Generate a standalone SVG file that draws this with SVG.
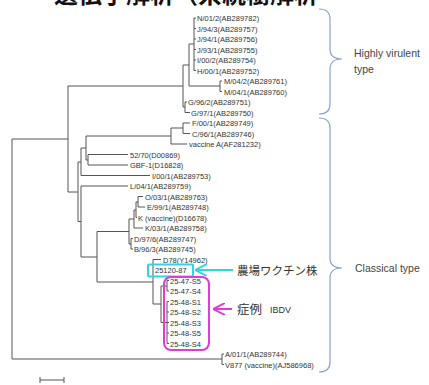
<svg xmlns="http://www.w3.org/2000/svg" width="429" height="385" viewBox="0 0 429 385">
<style>
.t{font-family:"Liberation Sans",Arial,sans-serif;font-size:7.5px;fill:#333}
.tree{fill:none;stroke:#555;stroke-width:1}
.br{fill:none;stroke:#8aa4d0;stroke-width:1.2}
.lab{font-family:"Liberation Sans",Arial,sans-serif;font-size:10.5px;fill:#444}
.jp{font-family:"Noto Sans CJK JP","Noto Sans CJK SC",sans-serif;fill:#333}
</style>
<defs>
<marker id="ac" markerWidth="6" markerHeight="6" refX="1" refY="3" orient="auto" markerUnits="strokeWidth"><path d="M6,0 L0,3 L6,6" fill="none" stroke="#2cd6e2" stroke-width="1"/></marker>
<marker id="am" markerWidth="6" markerHeight="6" refX="1" refY="3" orient="auto" markerUnits="strokeWidth"><path d="M6,0 L0,3 L6,6" fill="none" stroke="#e23ad6" stroke-width="1"/></marker>
</defs>
<text x="54" y="3" style="font-family:'Noto Sans CJK JP','Noto Sans CJK SC',sans-serif;font-size:24px;font-weight:bold;fill:#111">遺伝子解析（系統樹解析</text>
<g id="connectors">
<path class="tree" d="M12,139V359M12,139H68M68,86V192M68,86H183M183,65V107M183,65H189M189,44V86M189,44H194M194,18V70.5M194,18H196M194,28.5H196M194,39H196M194,49.5H196M194,60H196M194,70.5H196M189,86H220M220,81V91.5M220,81H222M220,91.5H222M183,107H185M185,102V112.5M185,102H187M185,112.5H190M12,359H222M222,354V364.5M222,354H224M222,364.5H224"/>
<path class="tree" d="M68,192H78M78,162V221.5M78,162H81M81,148V175.5M81,148H86M86,136V160M86,136H171M171,128V144M171,128H183M183,123V133.5M183,123H190M183,133.5H190M171,144H187M86,160H88M88,154.5V165M88,154.5H128M88,165H128M81,175.5H150M78,221.5H81M81,186V257M81,186H128M81,257H97M97,231.5V282M97,231.5H129M129,219V244M129,219H134M134,210V228M134,210H136M136,202V217.5M136,202H138M138,196.5V207M138,196.5H143M138,207H145M136,217.5H137M134,228H143M129,244H131M131,238.5V249M131,238.5H133M131,249H133M97,282H153M153,259.5V304M153,259.5H161M153,304H161M161,286V322.5M161,286H167M161,322.5H167M167,280.5V291M167,301.5V343.5M167,280.5H169M167,291H169M167,301.5H169M167,312H169M167,322.5H169M167,333H169M167,343.5H169"/>
</g>
<g id="leaves">
<text class="t" x="197" y="21">N/01/2(AB289782)</text>
<text class="t" x="197" y="31.5">J/94/3(AB289757)</text>
<text class="t" x="197" y="42">J/94/1(AB289756)</text>
<text class="t" x="197" y="52.5">J/93/1(AB289755)</text>
<text class="t" x="197" y="63">I/00/2(AB289754)</text>
<text class="t" x="197" y="73.5">H/00/1(AB289752)</text>
<text class="t" x="224" y="84">M/04/2(AB289761)</text>
<text class="t" x="224" y="94.5">M/04/1(AB289760)</text>
<text class="t" x="188" y="105">G/96/2(AB289751)</text>
<text class="t" x="191" y="115.5">G/97/1(AB289750)</text>
<text class="t" x="192" y="126">F/00/1(AB289749)</text>
<text class="t" x="192" y="136.5">C/96/1(AB289746)</text>
<text class="t" x="189" y="147">vaccine A(AF281232)</text>
<text class="t" x="130" y="157.5">52/70(D00869)</text>
<text class="t" x="130" y="168">GBF-1(D16828)</text>
<text class="t" x="152" y="178.5">I/00/1(AB289753)</text>
<text class="t" x="130" y="189">L/04/1(AB289759)</text>
<text class="t" x="145" y="199.5">O/03/1(AB289763)</text>
<text class="t" x="147" y="210">E/99/1(AB289748)</text>
<text class="t" x="138" y="220.5">K (vaccine)(D16678)</text>
<text class="t" x="145" y="231">K/03/1(AB289758)</text>
<text class="t" x="134" y="241.5">D/97/6(AB289747)</text>
<text class="t" x="134" y="252">B/96/3(AB289745)</text>
<text class="t" x="163" y="262.5">D78(Y14962)</text>
<text class="t" x="155" y="273">25120-87</text>
<text class="t" x="170" y="283.5">25-47-S5</text>
<text class="t" x="170" y="294">25-47-S4</text>
<text class="t" x="170" y="304.5">25-48-S1</text>
<text class="t" x="170" y="315">25-48-S2</text>
<text class="t" x="170" y="325.5">25-48-S3</text>
<text class="t" x="170" y="336">25-48-S5</text>
<text class="t" x="170" y="346.5">25-48-S4</text>
<text class="t" x="225" y="357">A/01/1(AB289744)</text>
<text class="t" x="225" y="367.5">V877 (vaccine)(AJ586968)</text>
</g>
<g id="vaccine-box">
<rect x="148" y="264.5" width="45" height="12" rx="1" fill="none" stroke="#2cd6e2" stroke-width="2"/>
<line x1="197" y1="270" x2="233" y2="270" stroke="#2cd6e2" stroke-width="2" marker-start="url(#ac)"/>
<text class="jp" x="237" y="274.5" style="font-size:11.5px">農場ワクチン株</text>
</g>
<g id="case-box">
<rect x="164" y="277" width="45" height="73" rx="7" fill="none" stroke="#e23ad6" stroke-width="2"/>
<line x1="215" y1="309" x2="232" y2="309" stroke="#e23ad6" stroke-width="2" marker-start="url(#am)"/>
<text class="jp" x="237" y="313.5" style="font-size:12.5px">症例</text>
<text class="t" x="270" y="312.5" style="font-size:9px">IBDV</text>
</g>
<g id="highly-virulent">
<path class="br" d="M319,9Q330,9 330,19V49Q330,59 342,59Q330,59 330,69V104Q330,114 319,114"/>
<text class="lab" x="354" y="57">Highly virulent</text>
<text class="lab" x="354" y="73">type</text>
</g>
<g id="classical">
<path class="br" d="M319,118Q330,118 330,128V258Q330,268 342,268Q330,268 330,278V362Q330,372 319,372"/>
<text class="lab" x="355" y="272">Classical type</text>
</g>
<g id="scale">
<path class="tree" d="M40,380H64M40,377V383M64,377V383"/>
</g>
</svg>
